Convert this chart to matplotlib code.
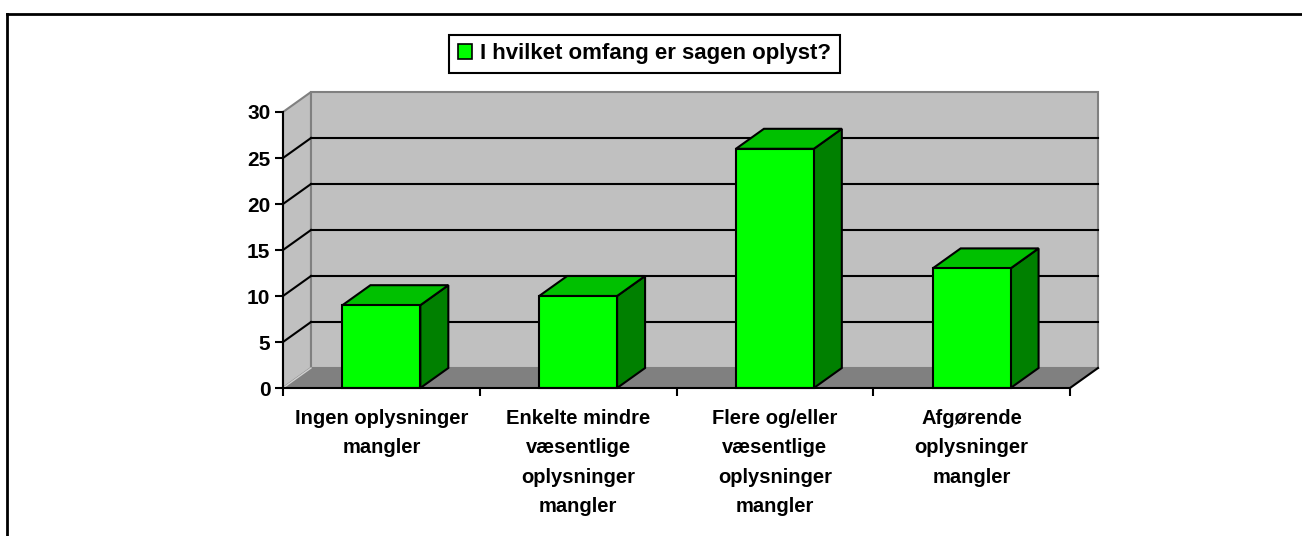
import matplotlib.pyplot as plt
import matplotlib.patches as mpatches
from matplotlib.lines import Line2D

# data
categories = ['Ingen oplysninger\nmangler',
              'Enkelte mindre\nvæsentlige\noplysninger\nmangler',
              'Flere og/eller\nvæsentlige\noplysninger\nmangler',
              'Afgørende\noplysninger\nmangler']
values = [9, 10, 26, 13]
series_name = 'I hvilket omfang er sagen oplyst?'
yticks = [0, 5, 10, 15, 20, 25, 30]

plt.rcParams['font.family'] = ['Liberation Sans', 'DejaVu Sans']
plt.rcParams['font.weight'] = 'bold'

W, H = 1302, 536
fig = plt.figure(figsize=(W / 100, H / 100), dpi=100)
# front plane of the fake 3d box
ax_l, ax_b, ax_w, ax_h = 283, 148, 787, 276
ax = fig.add_axes([ax_l / W, ax_b / H, ax_w / W, ax_h / H])
n = len(categories)
ymax = yticks[-1]
ax.set_xlim(0, n)
ax.set_ylim(0, ymax)
ax.patch.set_visible(False)

# depth offset (pixels -> data units)
ddx = 28 / ax_w * n
ddy = 20 / ax_h * ymax

wall = '#C0C0C0'
edge = '#808080'
# left wall
ax.add_patch(mpatches.Polygon([(0, 0), (ddx, ddy), (ddx, ymax + ddy), (0, ymax)],
                              facecolor=wall, edgecolor=edge, lw=1.5, zorder=0.5, clip_on=False))
# back wall
ax.add_patch(mpatches.Polygon([(ddx, ddy), (n + ddx, ddy), (n + ddx, ymax + ddy), (ddx, ymax + ddy)],
                              facecolor=wall, edgecolor=edge, lw=1.5, zorder=0.5, clip_on=False))
# floor
ax.add_patch(mpatches.Polygon([(0, 0), (n, 0), (n + ddx, ddy), (ddx, ddy)],
                              facecolor='#808080', edgecolor='none', zorder=0.6, clip_on=False))
ax.add_line(Line2D([n, n + ddx], [0, ddy], color='black', lw=1.5, zorder=0.7, clip_on=False))
ax.add_line(Line2D([0, ddx], [0, ddy], color='#D0D0D0', lw=1, zorder=0.7, clip_on=False))

# gridlines on the walls
for v in yticks[1:-1]:
    ax.add_line(Line2D([ddx, n + ddx], [v + ddy, v + ddy], color='black', lw=1.5, zorder=0.8, clip_on=False))
    ax.add_line(Line2D([0, ddx], [v, v + ddy], color='black', lw=1.5, zorder=0.8, clip_on=False))

# bars
bw = 78 / 197
for i, v in enumerate(values):
    x0 = i + 0.5 - bw / 2
    x1 = x0 + bw
    ax.add_patch(mpatches.Polygon([(x1, 0), (x1 + ddx, ddy), (x1 + ddx, v + ddy), (x1, v)],
                                  facecolor='#008000', edgecolor='black', lw=1.5, zorder=3, clip_on=False))
    ax.add_patch(mpatches.Polygon([(x0, v), (x0 + ddx, v + ddy), (x1 + ddx, v + ddy), (x1, v)],
                                  facecolor='#00C000', edgecolor='black', lw=1.5, zorder=3, clip_on=False))
    ax.add_patch(mpatches.Rectangle((x0, 0), bw, v,
                                    facecolor='#00FF00', edgecolor='black', lw=1.5, zorder=3, clip_on=False))

for s in ['top', 'right']:
    ax.spines[s].set_visible(False)
for s in ['left', 'bottom']:
    ax.spines[s].set_linewidth(1.5)
    ax.spines[s].set_zorder(4)

ax.set_yticks(yticks)
ax.set_xticks(range(n + 1))
ax.set_xticklabels([])
ax.set_xticks([i + 0.5 for i in range(n)], minor=True)
ax.set_xticklabels(categories, minor=True)
ax.tick_params(axis='both', which='major', direction='out', length=6, width=1.5, labelsize=15, pad=3)
ax.tick_params(axis='x', which='minor', length=0, labelsize=14.5, pad=15)
for t in ax.get_xticklabels(minor=True):
    t.set_linespacing(1.7)
    t.set_fontweight('bold')
for t in ax.get_yticklabels():
    t.set_fontweight('bold')

handle = mpatches.Patch(facecolor='#00FF00', edgecolor='black', lw=1.2)
leg = fig.legend(handles=[handle], labels=[series_name], loc='center',
                 bbox_to_anchor=(644.5 / W, 1 - 54 / H), fancybox=False, framealpha=1,
                 edgecolor='black', prop={'size': 16, 'weight': 'bold'},
                 handlelength=0.65, handleheight=0.65, handletextpad=0.35,
                 borderpad=0.4, borderaxespad=0)
leg.get_frame().set_linewidth(1.5)

# outer border (runs off the right and bottom edge)
fig.add_artist(Line2D([7 / W, 7 / W], [0, 1 - 14 / H], color='black', lw=2, transform=fig.transFigure))
fig.add_artist(Line2D([7 / W, 1], [1 - 14 / H, 1 - 14 / H], color='black', lw=2, transform=fig.transFigure))

fig.savefig('out.png', dpi=100)
